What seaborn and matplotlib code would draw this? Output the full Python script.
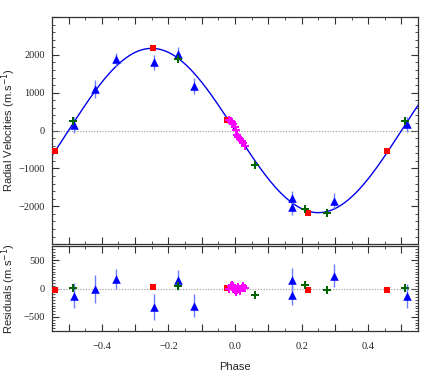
import numpy as np
import pandas as pd
import matplotlib
matplotlib.use("Agg")
import matplotlib.pyplot as plt
from matplotlib.ticker import MultipleLocator, FuncFormatter
import seaborn as sns

# orbital fit (semi-amplitude, systemic velocity)
K = 2170.0
gamma = 0.0

# instrument 1: red squares
red_phase = [-0.542, -0.247, -0.024, 0.218, 0.458]
red_rv = [-534, 2175, 288, -2173, -534]
red_res = [-21, 32, 14, -26, -21]

# instrument 2: blue triangles (with error bars)
blue_phase = [-0.483, -0.419, -0.357, -0.243, -0.172, -0.122, 0.172, 0.170, 0.296, 0.517]
blue_rv = [150, 1099, 1885, 1800, 2025, 1168, -1790, -2026, -1851, 165]
blue_err = [220, 240, 170, 200, 190, 210, 190, 200, 190, 200]
blue_res = [-126, -9, 167, -331, 154, -302, 154, -109, 225, -126]
blue_res_err = [220, 240, 180, 228, 180, 200, 200, 180, 200, 210]

# instrument 3: green crosses
green_phase = [-0.488, -0.170, 0.060, 0.209, 0.276, 0.510]
green_rv = [243, 1885, -920, -2086, -2191, 243]
green_res = [8, 49, -114, 54, -33, 14]

# instrument 4: magenta points around phase 0
mag_phase = [-0.017, -0.013, -0.010, -0.005, -0.001, 0.002, 0.005, 0.010,
             0.015, 0.020, 0.025, 0.030]
mag_rv = [270, 250, 236, 165, 94, 20, -110, -180, -236, -288, -340, -411]
mag_res = [-10, 40, 70, 50, -20, -60, -30, 20, -50, 10, 40, 15]

xlim = (-0.55, 0.55)

sns.set_style("ticks")
plt.rcParams["font.family"] = ["Liberation Sans", "DejaVu Sans"]
plt.rcParams["xtick.direction"] = "in"
plt.rcParams["ytick.direction"] = "in"

fig = plt.figure(figsize=(4.36, 3.85), dpi=100)
ax1 = fig.add_axes([0.119, 0.366, 0.840, 0.590])
ax2 = fig.add_axes([0.119, 0.140, 0.840, 0.221])

model = pd.DataFrame({"phase": np.linspace(xlim[0], xlim[1], 400)})
model["rv"] = gamma - K * np.sin(2 * np.pi * model["phase"])

for ax in (ax1, ax2):
    ax.axhline(0, color="#999999", ls=(0, (1, 1.5)), lw=0.8, zorder=1)

sns.lineplot(data=model, x="phase", y="rv", color="#0000ee", lw=1.0, ax=ax1, zorder=2)

ax1.errorbar(blue_phase, blue_rv, yerr=blue_err, fmt="none", ecolor="#6f7fff", elinewidth=1.0, zorder=3)
ax2.errorbar(blue_phase, blue_res, yerr=blue_res_err, fmt="none", ecolor="#6f7fff", elinewidth=1.0, zorder=3)

groups = [
    (red_phase, red_rv, red_res, "s", "#ff0000", 22),
    (blue_phase, blue_rv, blue_res, "^", "#0000ff", 38),
    (green_phase, green_rv, green_res, "P", "#006400", 40),
    (mag_phase, mag_rv, mag_res, "P", "#ff00ff", 30),
]
for ph, rv, res, mk, col, sz in groups:
    sns.scatterplot(x=ph, y=rv, marker=mk, color=col, s=sz, linewidth=0, ax=ax1, zorder=4)
    sns.scatterplot(x=ph, y=res, marker=mk, color=col, s=sz, linewidth=0, ax=ax2, zorder=4)

ax1.set_xlim(*xlim)
ax2.set_xlim(*xlim)
ax1.set_ylim(-3000, 3000)
ax2.set_ylim(-750, 750)


def phase_fmt(v, pos):
    k = int(round(v * 10))
    if k % 2:
        return ""
    return f"{v:.1f}".replace("-", "\u2212")


def make_int_fmt(limit):
    def fmt(v, pos):
        if abs(v) >= limit:
            return ""
        return f"{int(round(v))}".replace("-", "\u2212")
    return fmt


for ax in (ax1, ax2):
    ax.xaxis.set_major_locator(MultipleLocator(0.1))
    ax.xaxis.set_minor_locator(MultipleLocator(0.05))
    ax.tick_params(which="both", top=True, right=True, color="#333333")
    ax.tick_params(which="major", length=5, width=0.8)
    ax.tick_params(which="minor", length=2.5, width=0.6)
    ax.tick_params(labelfontfamily="Liberation Serif", labelsize=7.5)
    for s in ax.spines.values():
        s.set_color("#333333")
        s.set_linewidth(0.9)

ax1.yaxis.set_major_locator(MultipleLocator(1000))
ax1.yaxis.set_minor_locator(MultipleLocator(200))
ax2.yaxis.set_major_locator(MultipleLocator(500))
ax2.yaxis.set_minor_locator(MultipleLocator(50))
ax1.yaxis.set_major_formatter(FuncFormatter(make_int_fmt(3000)))
ax2.yaxis.set_major_formatter(FuncFormatter(make_int_fmt(750)))
ax2.xaxis.set_major_formatter(FuncFormatter(phase_fmt))
ax1.tick_params(labelbottom=False)
ax2.tick_params(axis="x", pad=8)
ax1.tick_params(axis="y", pad=5)
ax2.tick_params(axis="y", pad=5)

ax1.set_xlabel("")
ax1.set_ylabel("Radial Velocities (m.s$^{-1}$)", fontsize=8)
ax2.set_ylabel("Residuals (m.s$^{-1}$)", fontsize=8)
ax2.set_xlabel("Phase", fontsize=8, labelpad=8)
ax1.yaxis.set_label_coords(-0.092, 0.5)
ax2.yaxis.set_label_coords(-0.092, 0.5)

fig.savefig("out.png", dpi=100)
